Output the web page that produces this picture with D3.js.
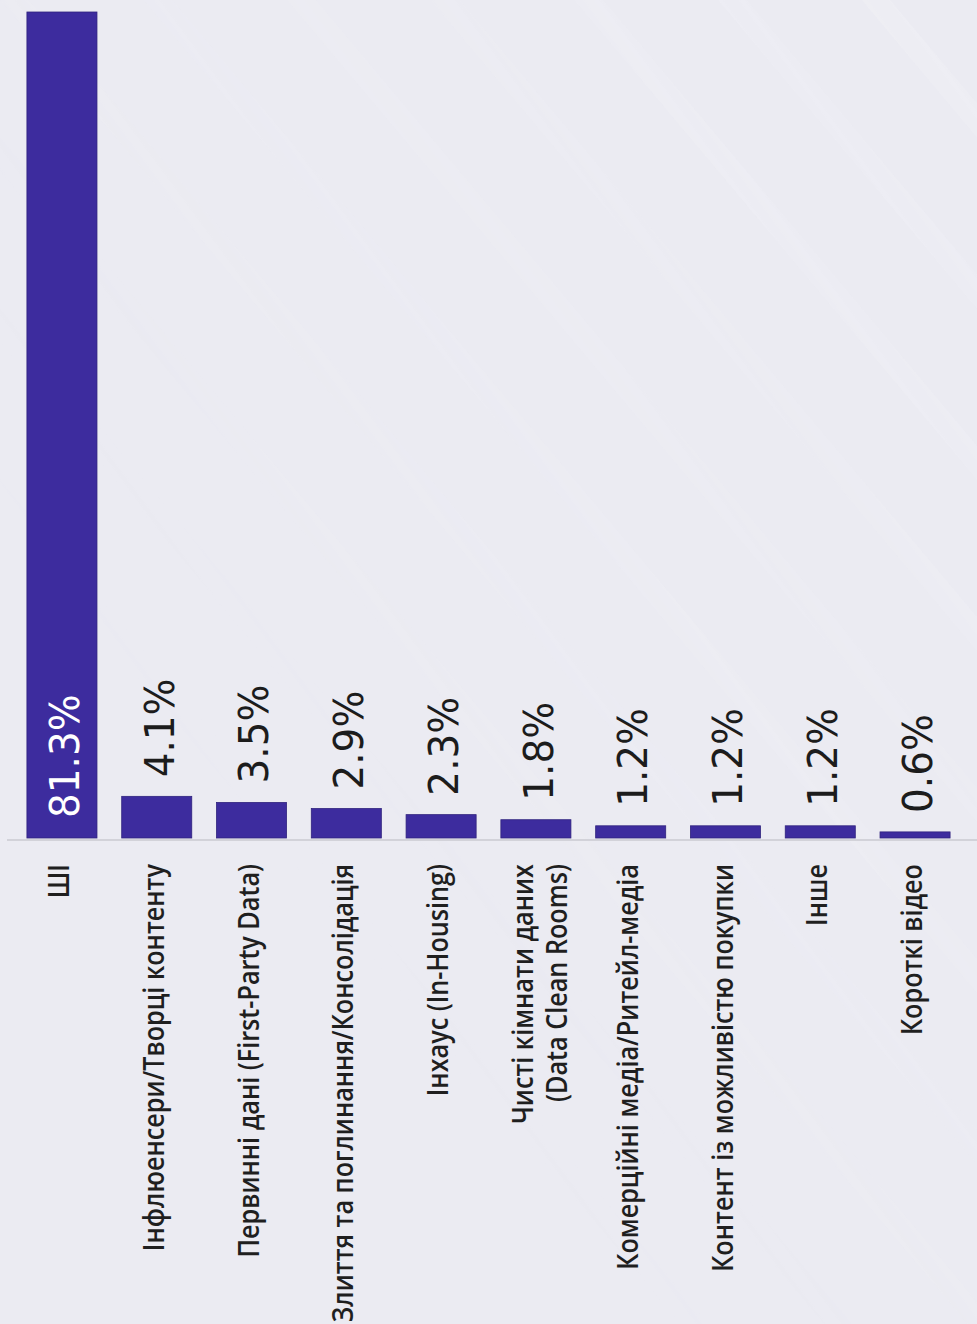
<!DOCTYPE html>
<html lang="uk">
<head>
<meta charset="utf-8">
<script src="https://cdn.jsdelivr.net/npm/d3@7"></script>
<style>
  html, body { margin: 0; padding: 0; background: #ebebf2; }
  svg { display: block; }
</style>
</head>
<body>
<svg id="chart" width="977" height="1324"></svg>
<script>
// Trend categories (each label may hold several lines)
const categories = [
  ["ШІ"],
  ["Інфлюенсери/Творці контенту"],
  ["Первинні дані (First-Party Data)"],
  ["Злиття та поглинання/Консолідація"],
  ["Інхаус (In-Housing)"],
  ["Чисті кімнати даних", "(Data Clean Rooms)"],
  ["Комерційні медіа/Ритейл-медіа"],
  ["Контент із можливістю покупки"],
  ["Інше"],
  ["Короткі відео"]
];
// Share of answers, %
const values = [81.3, 4.1, 3.5, 2.9, 2.3, 1.8, 1.2, 1.2, 1.2, 0.6];
const valueLabels = ["81.3%", "4.1%", "3.5%", "2.9%", "2.3%", "1.8%", "1.2%", "1.2%", "1.2%", "0.6%"];

const W = 977, H = 1324;
const baseY = 838, topY = 12;
const svg = d3.select("#chart");

// soft background with a faint diagonal sheen in the upper right
const defs = svg.append("defs");
const fade = defs.append("linearGradient")
  .attr("id", "fade").attr("x1", "1").attr("y1", "0").attr("x2", "0.3").attr("y2", "0.7");
fade.append("stop").attr("offset", "0").attr("stop-color", "#fff").attr("stop-opacity", 1);
fade.append("stop").attr("offset", "1").attr("stop-color", "#fff").attr("stop-opacity", 0);
const mask = defs.append("mask").attr("id", "sheenMask");
mask.append("rect").attr("width", W).attr("height", H).attr("fill", "url(#fade)");
const pat = defs.append("pattern")
  .attr("id", "sheen").attr("patternUnits", "userSpaceOnUse")
  .attr("width", 110).attr("height", 110)
  .attr("patternTransform", "rotate(-40)");
pat.append("rect").attr("x", 0).attr("width", 22).attr("height", 110).attr("fill", "#f4f4f9").attr("opacity", 0.22);
svg.append("rect").attr("width", W).attr("height", H).attr("fill", "#ebebf2");
svg.append("rect").attr("width", W).attr("height", H).attr("fill", "url(#sheen)").attr("mask", "url(#sheenMask)");

const x = d3.scaleBand()
  .domain(d3.range(categories.length))
  .range([14.6, 962.4])
  .paddingInner(0.261)
  .paddingOuter(0.13);

const y = d3.scaleLinear()
  .domain([0, d3.max(values)])
  .range([baseY, topY]);

// bars
svg.append("g").selectAll("rect")
  .data(values)
  .join("rect")
  .attr("x", (d, i) => x(i))
  .attr("width", x.bandwidth())
  .attr("y", d => y(d))
  .attr("height", d => baseY - y(d))
  .attr("fill", "#3d2c9e")
  .attr("stroke", "#30237e")
  .attr("stroke-width", 0.8);

// baseline
svg.append("line")
  .attr("x1", 7).attr("x2", W)
  .attr("y1", baseY + 2).attr("y2", baseY + 2)
  .attr("stroke", "#cacad0").attr("stroke-width", 1.5);

// value labels, rotated; the tall bar carries its label inside
const inside = v => baseY - y(v) > 200;
svg.append("g").selectAll("text")
  .data(values)
  .join("text")
  .attr("transform", (d, i) => {
    const cx = x(i) + x.bandwidth() / 2 + 2;
    const sy = inside(d) ? baseY - 20 : y(d) - 19;
    return `translate(${cx},${sy}) rotate(-90) scale(0.95,1)`;
  })
  .attr("dy", "0.36em")
  .attr("text-anchor", "start")
  .attr("font-family", "'DejaVu Sans', sans-serif")
  .attr("font-size", 41)
  .attr("fill", d => inside(d) ? "#ffffff" : "#1c1c1c")
  .text((d, i) => valueLabels[i]);

// category labels, rotated, hanging below the baseline
const catG = svg.append("g").selectAll("g")
  .data(categories)
  .join("g")
  .attr("transform", (d, i) => `translate(${x(i) + x.bandwidth() / 2},864) rotate(-90) scale(0.9,1)`);

catG.each(function(lines) {
  const n = lines.length;
  d3.select(this).selectAll("text")
    .data(lines)
    .join("text")
    .attr("x", 0)
    .attr("y", (l, j) => (j - (n - 1) / 2) * 34 + (n > 1 ? 4 : -3))
    .attr("dy", "0.36em")
    .attr("text-anchor", "end")
    .attr("font-family", "'Open Sans', sans-serif")
    .attr("font-weight", 600)
    .attr("font-size", 28)
    .attr("fill", "#1f1f1f")
    .text(l => l);
});
</script>
</body>
</html>
